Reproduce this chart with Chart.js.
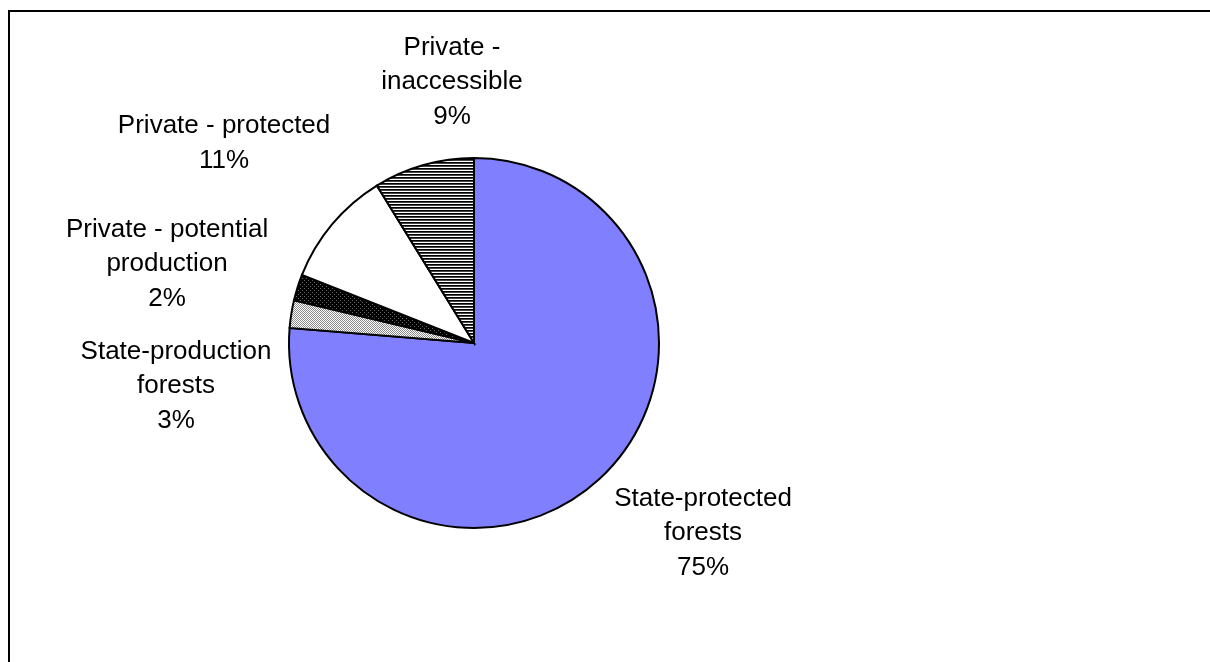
<!DOCTYPE html>
<html>
<head>
<meta charset="utf-8">
<script src="https://cdn.jsdelivr.net/npm/chart.js@4/dist/chart.umd.min.js"></script>
<style>
  html, body { margin: 0; padding: 0; background: #fff; }
  canvas { display: block; }
</style>
</head>
<body>
<canvas id="pie" width="1210" height="662"></canvas>
<script>
/*
DATA
*/
// categories, clockwise from 12 o'clock
const categories = [
  ['State-protected', 'forests'],
  ['State-production', 'forests'],
  ['Private - potential', 'production'],
  ['Private - protected'],
  ['Private -', 'inaccessible']
];
// slice sizes
const shares = [76.3, 2.4, 2.3, 10.2, 8.8];
// percent text as printed on the chart
const pctLabels = ['75%', '3%', '2%', '11%', '9%'];

//label placement, in units of the pie radius from its centre
const labelOffsets = [
  [1.238, 1.027],
  [-1.611, 0.232],
  [-1.659, -0.427],
  [-1.351, -1.078],
  [-0.119, -1.411]
];

//fill patterns like the old excel ones
function makePattern(w, h, draw) {
  let c = document.createElement('canvas');
  c.width = w;
  c.height = h;
  let cx = c.getContext('2d');
  cx.fillStyle = '#fff';
  cx.fillRect(0, 0, w, h);
  draw(cx);
  return document.getElementById('pie').getContext('2d').createPattern(c, 'repeat');
}

const dotted = makePattern(2, 2, cx => {
  cx.fillStyle = '#8a8a8a';
  cx.fillRect(0, 0, 1, 1);
  cx.fillRect(1, 1, 1, 1);
});
const darkDotted = makePattern(4, 4, cx => {
  cx.fillStyle = '#000';
  cx.fillRect(0, 0, 4, 4);
  cx.fillStyle = '#6a6a6a';
  cx.fillRect(0, 0, 1, 1);
  cx.fillRect(2, 2, 1, 1);
});
const hLines = makePattern(4, 3, cx => {
  cx.fillStyle = '#000';
  cx.fillRect(0, 0, 4, 1);
  cx.fillStyle = '#444';
  cx.fillRect(0, 1, 4, 1);
});

const fills = ['#8080ff', dotted, darkDotted, '#ffffff', hLines];

//frame around the chart
const framePlugin = {
  id: 'frame',
  beforeDraw(chart) {
    let ctx = chart.ctx;
    ctx.save();
    ctx.fillStyle = '#fff';
    ctx.fillRect(0, 0, chart.width, chart.height);
    ctx.strokeStyle = '#000';
    ctx.lineWidth = 2;
    ctx.strokeRect(9, 11, chart.width + 20, chart.height + 20);
    ctx.restore();
  }
};

//labels outside the pie
const labelPlugin = {
  id: 'sliceLabels',
  afterDraw(chart) {
    let ctx = chart.ctx;
    let meta = chart.getDatasetMeta(0);
    const lineH = 34.5;
    ctx.save();
    ctx.font = '26px "Liberation Sans", Arial, sans-serif';
    ctx.fillStyle = '#000';
    ctx.textAlign = 'center';
    ctx.textBaseline = 'middle';
    meta.data.forEach((arc, i) => {
      let r = arc.outerRadius;
      let cx = arc.x + labelOffsets[i][0] * r;
      let cy = arc.y + labelOffsets[i][1] * r;
      let lines = categories[i].concat([pctLabels[i]]);
      let top = cy - (lines.length - 1) * lineH / 2;
      lines.forEach((t, j) => ctx.fillText(t, cx, top + j * lineH));
    });
    ctx.restore();
  }
};

let canvas = document.getElementById('pie');

new Chart(canvas, {
  type: 'pie',
  data: {
    labels: categories.map(l => l.join(' ')),
    datasets: [{
      data: shares,
      backgroundColor: fills,
      borderColor: '#000',
      borderWidth: 2,
      borderJoinStyle: 'miter'
    }]
  },
  options: {
    responsive: false,
    animation: false,
    radius: 185,
    layout: {
      padding: { left: 274, right: 536, top: 143, bottom: 119 }
    },
    plugins: {
      legend: { display: false },
      tooltip: { enabled: false }
    }
  },
  plugins: [framePlugin, labelPlugin]
});
</script>
</body>
</html>
